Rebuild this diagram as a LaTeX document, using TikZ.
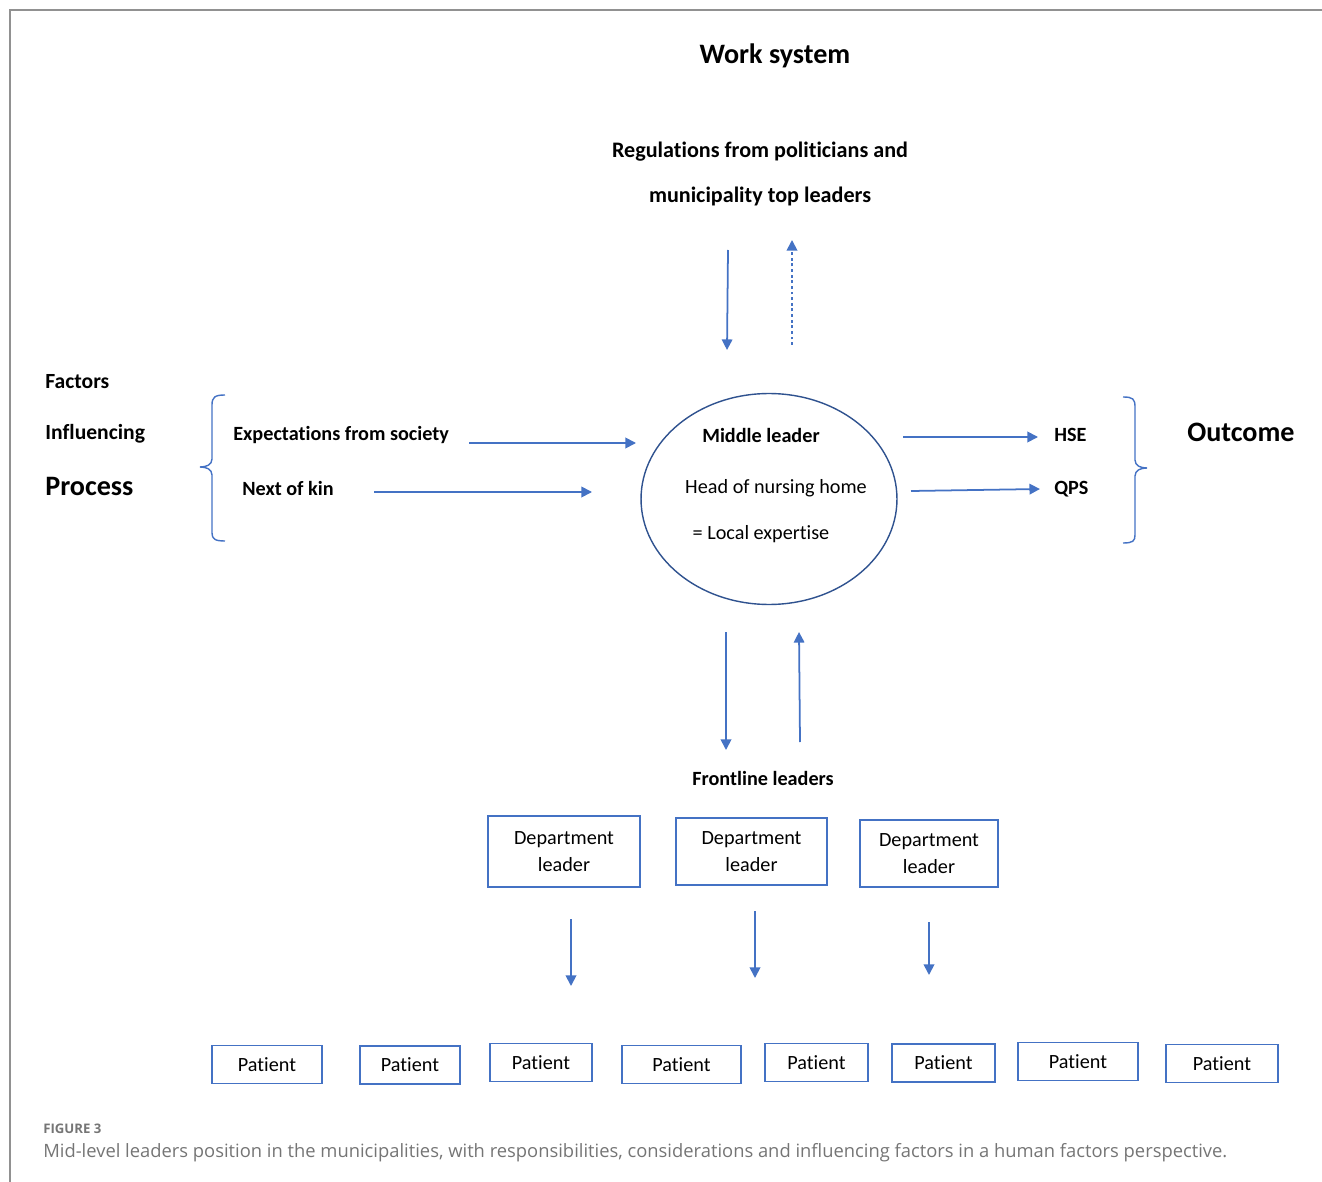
\documentclass[tikz,border=0pt]{standalone}
\usepackage{fontspec}
\setmainfont{Carlito}[Ligatures=NoCommon]
\newfontfamily\capfont{Open Sans}
\usetikzlibrary{arrows.meta, shapes.geometric}

\definecolor{pijl}{HTML}{4472C4}
\definecolor{rand}{HTML}{2F528F}
\definecolor{grijs}{HTML}{757575}

\begin{document}
\begin{tikzpicture}[
            x = 0.02cm, y = -0.02cm,
            >={Triangle[length=6pt, width=6pt]},
            label/.style = {font=\fontsize{11.5}{14}\selectfont\bfseries, inner sep=0pt},
            side/.style = {font=\fontsize{12.3}{15}\selectfont\bfseries, inner sep=0pt},
            big/.style = {font=\fontsize{16}{19}\selectfont\bfseries, inner sep=0pt},
            plain/.style = {font=\fontsize{11.5}{14}\selectfont, inner sep=0pt},
            box/.style = {
                draw=pijl, line width=1pt,
                font=\fontsize{11.5}{15}\selectfont,
                align=center, inner sep=0pt,
            },
            flow/.style = {->, pijl, line width=1pt},
        ]

        \useasboundingbox (0,0) rectangle (1322,1182);

        % Kader
        \draw[grijs!80, line width=1pt] (1322,10) -- (10,10) -- (10,1182);

        % Titels
        \node[big] (work) at (775,56) {Work system};
        \node[align=center, inner sep=0pt, font=\fontsize{12.6}{26}\selectfont\bfseries] (reg) at (760,174)
            {Regulations from politicians and\\municipality top leaders};

        \node[side, anchor=west] (factors) at (45,382) {Factors};
        \node[side, anchor=west] (influencing) at (45,434) {Influencing};
        \node[big, anchor=west] (process) at (45,486) {Process};

        \node[label, anchor=west] (society) at (233,435) {Expectations from society};
        \node[label, anchor=west] (kin) at (242,488) {Next of kin};

        % Middenleider
        \node[ellipse, draw=rand, line width=0.8pt,
            minimum width=5.12cm, minimum height=4.22cm] (mid) at (769,499) {};
        \node[label] (middle) at (761,435) {Middle leader};
        \node[plain] (head) at (776,488) {Head of nursing home};
        \node[plain] (local) at (761,534) {= Local expertise};

        \node[label, anchor=west] (hse) at (1054,435) {HSE};
        \node[label, anchor=west] (qps) at (1054,489) {QPS};
        \node[big, anchor=west] (outcome) at (1187,432) {Outcome};

        \node[label] (front) at (763,778) {Frontline leaders};

        % Afdelingsleiders
        \foreach \i/\x/\y/\w/\h in {1/564/851.5/3.04/1.42, 2/751.5/851.5/3.02/1.34, 3/929/853.5/2.76/1.34}
            \node[box, minimum width=\w cm, minimum height=\h cm] (dept\i) at (\x,\y) {Department\\leader};

        % Patienten
        \foreach \i/\x/\y/\w in {1/267/1064.5/2.2, 2/410/1065/2.0, 3/541/1062.5/2.04, 4/681.5/1064.5/2.38,
                5/816.5/1062.5/2.06, 6/943.5/1063/2.06, 7/1078/1061.5/2.4, 8/1222/1063.5/2.24}
            \node[box, minimum width=\w cm, minimum height=0.76cm] (pat\i) at (\x,\y) {Patient};

        % Accolades
        \draw[pijl, line width=0.8pt] (225,395) .. controls (215,395) and (212,397) .. (212,405)
            -- (212,459) .. controls (212,465) and (206,467) .. (200,467)
            .. controls (206,467) and (212,469) .. (212,475)
            -- (212,533) .. controls (212,539) and (215,541) .. (225,541);
        \draw[pijl, line width=0.8pt] (1123,397) .. controls (1133,397) and (1135,399) .. (1135,407)
            -- (1135,460) .. controls (1135,466) and (1141,468) .. (1147,468)
            .. controls (1141,468) and (1135,470) .. (1135,476)
            -- (1135,535) .. controls (1135,541) and (1133,543) .. (1123,543);

        % Pijlen
        \foreach \n/\xa/\ya/\xb/\yb in {
                regdown/728/250/727/350, society/469/443/636/443, kin/374/492/592/492,
                hse/903/437/1038/437, qps/911/491/1040/489,
                frontdown/726/632/726/750, frontup/800/742/799/632,
                dept1/571/919/571/986, dept2/755/911/755/978, dept3/929/922/929/975} {
            \coordinate (\n a) at (\xa,\ya);
            \coordinate (\n b) at (\xb,\yb);
            \draw[flow] (\n a) -- (\n b);
        }
        \coordinate (regupa) at (792,345);
        \coordinate (regupb) at (792,240);
        \draw[flow, dash pattern=on 1.6pt off 1.6pt] (regupa) -- (regupb);

        % Onderschrift
        \node[anchor=west, inner sep=0pt, text=grijs, font=\capfont\fontsize{7.5}{9}\selectfont\bfseries]
            (fig) at (43,1129) {FIGURE 3};
        \node[anchor=west, inner sep=0pt, text=grijs, font=\capfont\fontsize{10.45}{13}\selectfont]
            (caption) at (43,1153) {Mid-level leaders position in the municipalities, with responsibilities, considerations and influencing factors in a human factors perspective.};
    \end{tikzpicture}
\end{document}
